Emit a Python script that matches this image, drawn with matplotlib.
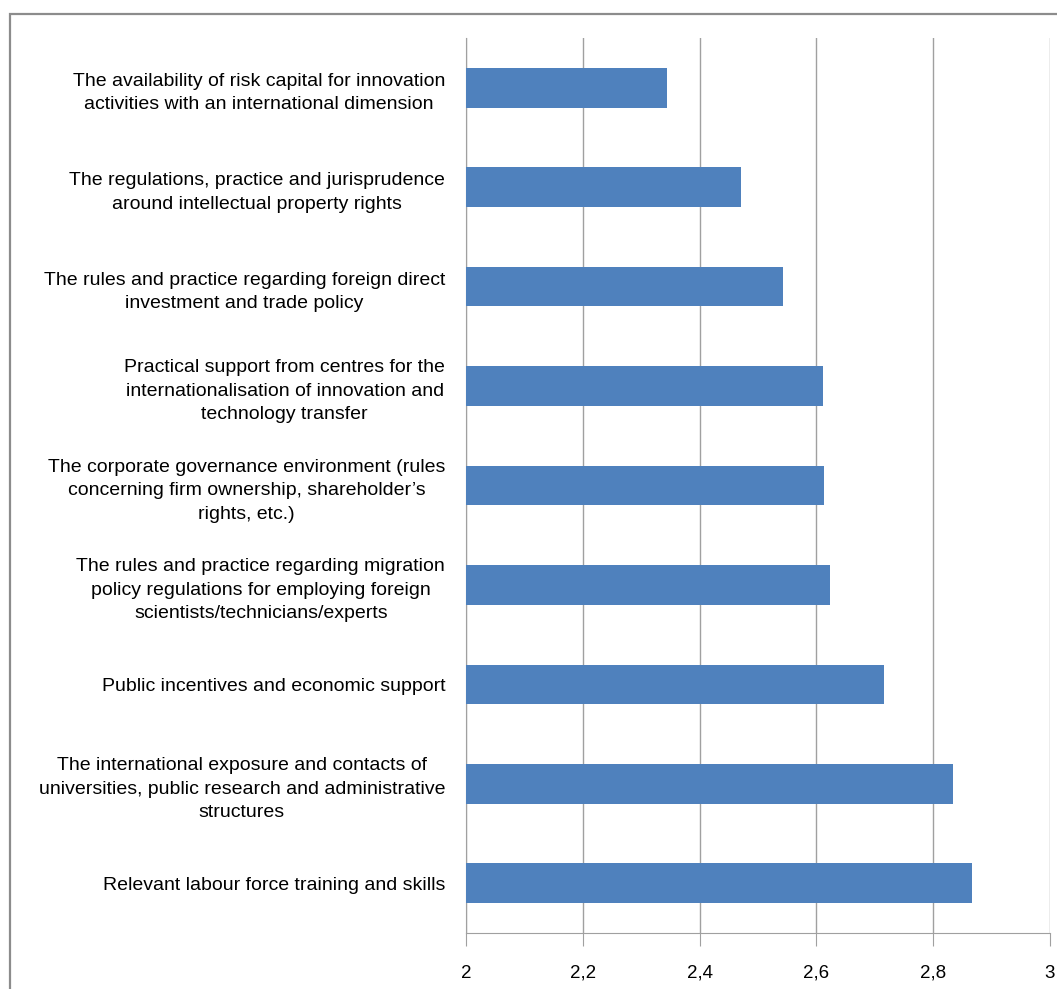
import matplotlib.pyplot as plt
from matplotlib.patches import Rectangle
from matplotlib.ticker import FuncFormatter

labels = [
    "The availability of risk capital for innovation\nactivities with an international dimension",
    "The regulations, practice and jurisprudence\naround intellectual property rights",
    "The rules and practice regarding foreign direct\ninvestment and trade policy",
    "Practical support from centres for the\ninternationalisation of innovation and\ntechnology transfer",
    "The corporate governance environment (rules\nconcerning firm ownership, shareholder\u2019s\nrights, etc.)",
    "The rules and practice regarding migration\npolicy regulations for employing foreign\nscientists/technicians/experts",
    "Public incentives and economic support",
    "The international exposure and contacts of\nuniversities, public research and administrative\nstructures",
    "Relevant labour force training and skills",
]
values = [2.344, 2.471, 2.543, 2.611, 2.613, 2.623, 2.716, 2.834, 2.866]
xticks = [2, 2.2, 2.4, 2.6, 2.8, 3]

plt.rcParams['font.family'] = ['Liberation Sans', 'DejaVu Sans']

fig = plt.figure(figsize=(10.57, 9.89), dpi=100)
ax = fig.add_axes([0.4409, 0.0566, 0.5525, 0.905])

# outer chart border
fig.patches.append(Rectangle((9.5 / 1057, -0.01), 1.05, 1 - 14 / 989 + 0.01,
                             transform=fig.transFigure, fill=False,
                             edgecolor='#8c8c8c', lw=1.6))

y = list(range(len(labels)))
ax.barh(y, values, height=0.4, color='#4F81BD', zorder=3)
ax.set_ylim(len(labels) - 0.5, -0.5)
ax.set_xlim(2, 3)
ax.set_xticks(xticks)
ax.xaxis.set_major_formatter(FuncFormatter(lambda v, p: ('%g' % v).replace('.', ',')))

ax.set_yticks(y)
ax.set_yticklabels(labels, fontsize=14)
for t in ax.get_yticklabels():
    t.set_multialignment('center')
    t.set_linespacing(1.5)
ax.tick_params(axis='y', length=0, pad=15)
ax.tick_params(axis='x', length=9, color='#a0a0a0', labelsize=13.5, pad=14)

ax.grid(axis='x', color='#a0a0a0', lw=1, zorder=0)
for s in ['top', 'right']:
    ax.spines[s].set_visible(False)
ax.spines['left'].set_color('#a0a0a0')
ax.spines['bottom'].set_color('#a0a0a0')

plt.savefig('out.png', dpi=100)
